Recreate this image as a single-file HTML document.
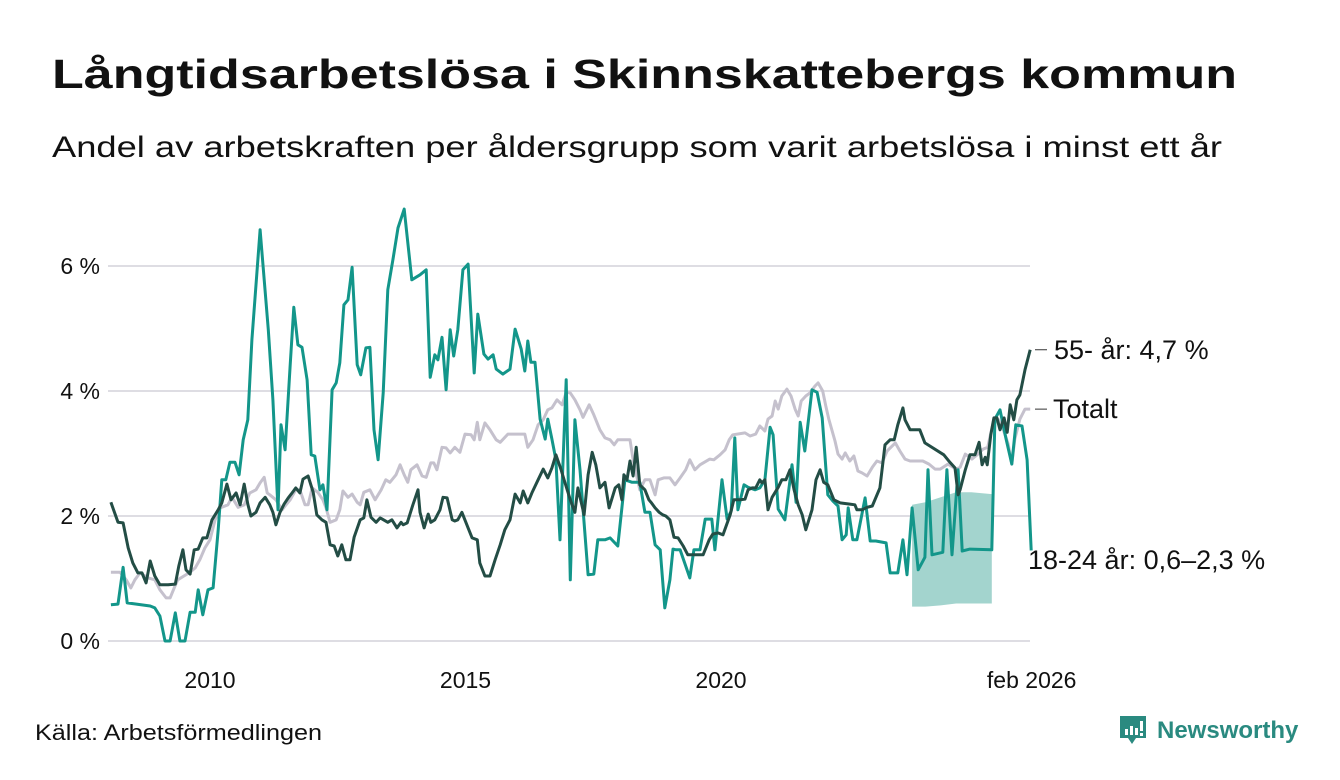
<!DOCTYPE html>
<html><head><meta charset="utf-8"><style>
html,body{margin:0;padding:0;background:#fff;}
svg{display:block;font-family:"Liberation Sans",sans-serif;}
</style></head><body>
<svg id="chart" width="1340" height="780" viewBox="0 0 1340 780">
<text x="52" y="88" font-size="41" font-weight="bold" fill="#111" textLength="1185" lengthAdjust="spacingAndGlyphs">Långtidsarbetslösa i Skinnskattebergs kommun</text>
<text x="52" y="157" font-size="30" fill="#111" textLength="1170" lengthAdjust="spacingAndGlyphs">Andel av arbetskraften per åldersgrupp som varit arbetslösa i minst ett år</text>
<g id="grid"></g>
<g id="band"></g>
<g id="lines"></g>
<g id="labels"></g>
<text x="35" y="740" font-size="22" fill="#111" textLength="287" lengthAdjust="spacingAndGlyphs">Källa: Arbetsförmedlingen</text>
<g>
<path d="M1120 716 h26 v22 h-10 l-4 6 l-4 -6 h-8 z" fill="#2a8a80"/>
<rect x="1125" y="729" width="3" height="6" fill="#fff"/><rect x="1130" y="726" width="3" height="9" fill="#fff"/><rect x="1135" y="728" width="3" height="7" fill="#fff"/><rect x="1140" y="721" width="3" height="10" fill="#fff"/><rect x="1140" y="733" width="3" height="3" fill="#fff"/>
<text x="1157" y="738" font-size="24" font-weight="bold" fill="#2a8a80">Newsworthy</text>
</g>
</svg>
<script>
const yTicks = [0, 2, 4, 6];
const yTickLabels = ["0 %", "2 %", "4 %", "6 %"];
const xTicks = [2010, 2015, 2020, 2026.08];
const xTickLabels = ["2010", "2015", "2020", "feb 2026"];

const youthYears = [2008.06,2008.20,2008.30,2008.38,2008.83,2008.92,2009.02,2009.12,2009.22,2009.32,2009.41,2009.51,2009.61,2009.71,2009.77,2009.86,2009.96,2010.06,2010.16,2010.23,2010.31,2010.39,2010.49,2010.57,2010.65,2010.74,2010.82,2010.98,2011.14,2011.23,2011.33,2011.39,2011.47,2011.57,2011.64,2011.72,2011.80,2011.90,2011.98,2012.05,2012.15,2012.21,2012.29,2012.39,2012.47,2012.54,2012.62,2012.70,2012.78,2012.88,2012.95,2013.05,2013.13,2013.21,2013.29,2013.39,2013.48,2013.58,2013.68,2013.80,2013.95,2014.11,2014.23,2014.31,2014.40,2014.46,2014.54,2014.62,2014.70,2014.77,2014.85,2014.95,2015.05,2015.17,2015.24,2015.36,2015.44,2015.54,2015.60,2015.73,2015.87,2015.97,2016.09,2016.16,2016.22,2016.28,2016.36,2016.46,2016.56,2016.61,2016.69,2016.77,2016.85,2016.97,2017.05,2017.14,2017.24,2017.40,2017.51,2017.59,2017.73,2017.83,2017.98,2018.12,2018.26,2018.41,2018.51,2018.61,2018.71,2018.81,2018.90,2019.00,2019.06,2019.12,2019.20,2019.39,2019.47,2019.59,2019.69,2019.82,2019.88,2020.02,2020.12,2020.20,2020.27,2020.33,2020.45,2020.53,2020.67,2020.76,2020.86,2020.96,2021.02,2021.12,2021.25,2021.39,2021.47,2021.55,2021.64,2021.78,2021.88,2021.98,2022.09,2022.19,2022.29,2022.37,2022.45,2022.49,2022.58,2022.66,2022.82,2022.92,2023.03,2023.23,2023.31,2023.46,2023.56,2023.64,2023.74,2023.86,2023.99,2024.05,2024.13,2024.34,2024.42,2024.52,2024.64,2024.72,2024.87,2025.30,2025.36,2025.46,2025.58,2025.69,2025.77,2025.89,2025.99,2026.07];
const youthValues = [0.58,0.59,1.18,0.61,0.56,0.53,0.40,0,0,0.45,0,0,0.46,0.46,0.82,0.42,0.82,0.85,1.78,2.58,2.58,2.86,2.86,2.66,3.22,3.54,4.82,6.58,4.98,3.86,2.1,3.46,3.06,4.42,5.34,4.74,4.70,4.18,2.98,2.96,2.42,2.50,2.10,4.02,4.13,4.45,5.38,5.46,5.98,4.42,4.26,4.69,4.70,3.38,2.9,3.97,5.62,6.10,6.61,6.91,5.78,5.86,5.94,4.22,4.58,4.50,4.86,4.02,4.98,4.56,4.98,5.94,6.03,4.29,5.23,4.59,4.51,4.58,4.35,4.27,4.35,4.99,4.67,4.32,4.80,4.46,4.46,3.55,3.23,3.55,3.23,2.9,1.62,4.18,0.98,3.54,2.74,1.06,1.07,1.62,1.62,1.65,1.52,2.58,2.54,2.54,2.06,2.06,1.54,1.46,0.53,0.98,1.47,1.46,1.46,1.01,1.46,1.46,1.95,1.95,1.46,2.58,1.95,2.08,3.25,2.10,2.50,2.46,2.42,2.45,2.58,3.42,3.3,2.11,1.94,2.82,2.22,3.5,3.04,4.02,3.98,3.57,2.34,2.24,2.16,1.62,1.70,2.13,1.62,1.62,2.29,1.60,1.60,1.57,1.09,1.09,1.62,1.06,2.13,1.14,1.34,2.74,1.38,1.42,2.74,1.38,2.74,1.44,1.47,1.46,3.55,3.7,3.23,2.83,3.46,3.44,2.90,1.45];

const bandYears = [2023.74, 2024.0, 2024.3, 2024.6, 2024.9, 2025.30];
const bandHigh = [2.18, 2.22, 2.30, 2.38, 2.38, 2.35];
const bandLow = [0.55, 0.55, 0.57, 0.60, 0.60, 0.60];

const seniorYears = [2008.06,2008.20,2008.30,2008.40,2008.49,2008.59,2008.67,2008.75,2008.83,2008.92,2009.02,2009.18,2009.32,2009.39,2009.47,2009.53,2009.61,2009.69,2009.77,2009.86,2009.94,2010.04,2010.16,2010.23,2010.33,2010.41,2010.51,2010.59,2010.67,2010.74,2010.80,2010.90,2010.98,2011.08,2011.17,2011.23,2011.29,2011.37,2011.45,2011.53,2011.59,2011.68,2011.76,2011.82,2011.92,2012.02,2012.09,2012.19,2012.27,2012.35,2012.43,2012.50,2012.58,2012.66,2012.74,2012.82,2012.94,2013.01,2013.07,2013.15,2013.25,2013.33,2013.48,2013.56,2013.66,2013.74,2013.78,2013.86,2013.97,2014.07,2014.11,2014.19,2014.27,2014.32,2014.40,2014.50,2014.56,2014.64,2014.74,2014.79,2014.85,2014.93,2015.05,2015.13,2015.23,2015.28,2015.38,2015.48,2015.58,2015.68,2015.77,2015.87,2015.97,2016.07,2016.13,2016.22,2016.30,2016.42,2016.52,2016.61,2016.69,2016.77,2016.87,2016.93,2017.05,2017.14,2017.20,2017.32,2017.40,2017.48,2017.55,2017.63,2017.73,2017.81,2017.93,2018.00,2018.06,2018.10,2018.16,2018.22,2018.28,2018.34,2018.41,2018.51,2018.59,2018.63,2018.71,2018.79,2018.86,2018.92,2019.00,2019.08,2019.16,2019.26,2019.35,2019.51,2019.65,2019.77,2019.84,2019.94,2020.04,2020.18,2020.25,2020.37,2020.47,2020.53,2020.61,2020.68,2020.76,2020.80,2020.86,2020.92,2021.00,2021.12,2021.19,2021.27,2021.35,2021.43,2021.51,2021.59,2021.66,2021.78,2021.86,2021.94,2022.01,2022.09,2022.21,2022.33,2022.52,2022.62,2022.66,2022.76,2022.86,2022.96,2023.11,2023.21,2023.31,2023.39,2023.46,2023.56,2023.60,2023.70,2023.89,2023.99,2024.36,2024.48,2024.58,2024.64,2024.68,2024.78,2024.87,2024.97,2025.05,2025.11,2025.17,2025.21,2025.28,2025.34,2025.40,2025.46,2025.54,2025.60,2025.66,2025.73,2025.79,2025.85,2025.95,2026.05];
const seniorValues = [2.22,1.90,1.89,1.49,1.25,1.09,1.09,0.93,1.28,1.04,0.90,0.90,0.91,1.20,1.46,1.14,1.07,1.46,1.47,1.65,1.65,1.94,2.10,2.21,2.51,2.26,2.37,2.18,2.51,2.19,2.00,2.06,2.21,2.30,2.18,2.06,1.86,2.06,2.19,2.29,2.35,2.45,2.37,2.59,2.64,2.38,2.02,1.94,1.90,1.54,1.52,1.36,1.54,1.30,1.30,1.66,1.94,1.97,2.26,1.98,1.90,1.97,1.90,1.94,1.81,1.90,1.86,1.89,2.18,2.42,2.06,1.81,2.03,1.90,1.94,2.10,2.30,2.29,1.94,1.92,1.94,2.06,1.81,1.65,1.62,1.25,1.04,1.04,1.30,1.54,1.78,1.94,2.35,2.21,2.40,2.21,2.37,2.58,2.75,2.61,2.77,2.98,2.74,2.58,2.26,2.06,2.45,2.02,2.66,3.02,2.82,2.45,2.54,2.13,2.45,2.50,2.26,2.66,2.58,2.88,2.64,3.1,2.50,2.42,2.26,2.22,2.13,2.06,2.02,2.00,1.94,1.66,1.65,1.52,1.38,1.38,1.38,1.62,1.71,1.73,1.70,2.02,2.26,2.26,2.27,2.42,2.45,2.45,2.58,2.53,2.58,2.10,2.30,2.46,2.58,2.58,2.74,2.42,2.18,2.02,1.78,2.10,2.58,2.74,2.54,2.50,2.26,2.21,2.19,2.18,2.10,2.10,2.14,2.16,2.45,3.14,3.22,3.22,3.46,3.73,3.54,3.38,3.38,3.17,2.98,2.86,2.77,2.34,2.42,2.74,2.98,2.98,3.18,2.82,2.94,2.82,3.30,3.57,3.57,3.38,3.57,3.34,3.78,3.54,3.86,3.94,4.34,4.66];

const totalYears = [2008.06,2008.24,2008.36,2008.45,2008.53,2008.63,2008.79,2008.92,2009.02,2009.14,2009.22,2009.30,2009.37,2009.49,2009.61,2009.71,2009.80,2009.90,2010.00,2010.10,2010.20,2010.35,2010.43,2010.55,2010.67,2010.78,2010.90,2010.98,2011.06,2011.12,2011.17,2011.29,2011.41,2011.47,2011.57,2011.68,2011.76,2011.86,2011.92,2012.00,2012.11,2012.21,2012.27,2012.35,2012.47,2012.54,2012.60,2012.70,2012.78,2012.88,2012.94,2013.01,2013.13,2013.23,2013.35,2013.44,2013.52,2013.64,2013.72,2013.80,2013.87,2013.93,2014.05,2014.15,2014.23,2014.32,2014.38,2014.44,2014.54,2014.62,2014.70,2014.79,2014.89,2014.99,2015.11,2015.17,2015.23,2015.28,2015.38,2015.48,2015.60,2015.68,2015.83,2016.16,2016.22,2016.32,2016.42,2016.52,2016.61,2016.69,2016.79,2016.89,2016.97,2017.05,2017.14,2017.24,2017.30,2017.42,2017.51,2017.63,2017.73,2017.83,2017.91,2017.98,2018.22,2018.28,2018.41,2018.51,2018.61,2018.71,2018.77,2018.88,2019.00,2019.10,2019.20,2019.31,2019.39,2019.49,2019.59,2019.78,2019.86,2019.98,2020.08,2020.16,2020.23,2020.47,2020.57,2020.68,2020.76,2020.86,2020.92,2021.00,2021.06,2021.12,2021.19,2021.29,2021.37,2021.45,2021.51,2021.57,2021.66,2021.74,2021.84,2021.90,2021.99,2022.05,2022.11,2022.23,2022.29,2022.37,2022.43,2022.52,2022.60,2022.68,2022.76,2022.86,2022.96,2023.05,2023.15,2023.25,2023.41,2023.50,2023.60,2023.70,2023.95,2024.07,2024.19,2024.29,2024.44,2024.60,2024.68,2024.78,2024.91,2025.03,2025.13,2025.22,2025.34,2025.42,2025.52,2025.62,2025.69,2025.75,2025.85,2025.95,2026.05];
const totalValues = [1.10,1.10,0.98,0.85,0.98,1.09,1.01,0.98,0.82,0.69,0.69,0.85,0.98,1.04,1.10,1.17,1.30,1.49,1.62,1.94,2.13,2.18,2.30,2.14,2.18,2.37,2.42,2.53,2.62,2.37,2.34,2.26,2.10,2.16,2.26,2.42,2.42,2.18,2.18,2.45,2.38,2.26,2.13,1.90,1.94,2.10,2.40,2.30,2.35,2.22,2.18,2.38,2.42,2.26,2.42,2.58,2.54,2.66,2.82,2.66,2.54,2.74,2.82,2.64,2.62,2.85,2.85,2.74,3.10,3.09,3.01,3.10,3.02,3.31,3.30,3.22,3.50,3.22,3.49,3.38,3.22,3.18,3.31,3.31,3.10,3.22,3.46,3.54,3.70,3.73,3.86,3.78,3.98,3.97,3.86,3.70,3.58,3.78,3.62,3.38,3.25,3.22,3.14,3.22,3.22,2.90,2.42,2.58,2.58,2.34,2.58,2.61,2.61,2.50,2.61,2.74,2.90,2.74,2.82,2.91,2.90,2.98,3.06,3.22,3.30,3.33,3.28,3.31,3.44,3.36,3.55,3.60,3.84,3.71,3.92,4.03,3.92,3.71,3.60,3.84,3.92,3.97,4.08,4.13,4.0,3.76,3.55,3.2,2.99,2.91,3.01,2.88,2.96,2.72,2.69,2.64,2.78,2.88,2.85,3.04,3.17,3.04,2.91,2.88,2.88,2.83,2.75,2.75,2.83,2.75,2.78,2.99,2.91,2.99,3.07,3.10,3.55,3.55,3.39,3.15,2.83,3.23,3.55,3.71,3.71];

const NS = "http://www.w3.org/2000/svg";
const X0 = 210, PXY = 51.1, Y0 = 641, PXV = 62.5;
function xs(t){ return X0 + (t - 2010) * PXY; }
function ys(v){ return Y0 - v * PXV; }
function mk(tag, attrs, parent){ const e = document.createElementNS(NS, tag); for (const k in attrs) e.setAttribute(k, attrs[k]); parent.appendChild(e); return e; }

const grid = document.getElementById('grid');
yTicks.forEach((v, i) => {
  const l = mk('line', {x1:108, x2:1030, y1:ys(v), y2:ys(v), stroke:'#dedde3', 'stroke-width':2}, grid);
  
  
  const t = mk('text', {x:100, y:ys(v)+8, 'text-anchor':'end', 'font-size':23, fill:'#111'}, grid);
  t.textContent = yTickLabels[i];
  
  
});
xTicks.forEach((v, i) => {
  const t = mk('text', {x:xs(v), y:688, 'text-anchor':'middle', 'font-size':23, fill:'#111'}, grid);
  t.textContent = xTickLabels[i];
  
  
});

const band = document.getElementById('band');
let bd = bandYears.map((t,i)=>(i?'L':'M')+xs(t).toFixed(1)+' '+ys(bandHigh[i]).toFixed(1)).join(' ');
for (let i = bandYears.length-1; i >= 0; i--) bd += ' L'+xs(bandYears[i]).toFixed(1)+' '+ys(bandLow[i]).toFixed(1);
const bp = mk('path', {d: bd + ' Z', fill:'#a3d4ce'}, band);



const lines = document.getElementById('lines');
function drawLine(years, vals, color, name){
  const d = years.map((t,i)=>(i?'L':'M')+xs(t).toFixed(1)+' '+ys(vals[i]).toFixed(1)).join(' ');
  const p = mk('path', {d:d, fill:'none', stroke:color, 'stroke-width':3, 'stroke-linejoin':'round'}, lines);
  
  
}
drawLine(totalYears, totalValues, '#c5c1cd', 'line-totalt');
drawLine(youthYears, youthValues, '#13968a', 'line-18-24');
drawLine(seniorYears, seniorValues, '#234d45', 'line-55-plus');

const labels = document.getElementById('labels');
function lab(v, txt, name, x, tick){
  if (tick){
    const l = mk('line', {x1:1035, x2:1047, y1:ys(v), y2:ys(v), stroke:'#333', 'stroke-width':1}, labels);
    
    
  }
  const t = mk('text', {x:x, y:ys(v)+9, 'font-size':27, fill:'#111'}, labels);
  t.textContent = txt;
  
  
}
lab(seniorValues[seniorValues.length-1], '55- år: 4,7 %', 'label-55-plus', 1054, true);
lab(totalValues[totalValues.length-1], 'Totalt', 'label-totalt', 1053, true);
lab(1.3, '18-24 år: 0,6–2,3 %', 'label-18-24', 1028, false);
</script>
</body></html>
